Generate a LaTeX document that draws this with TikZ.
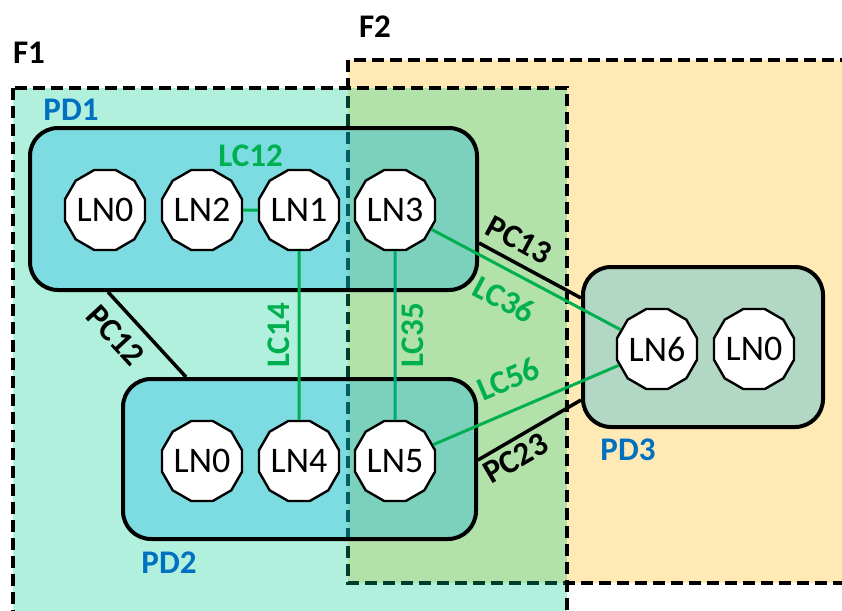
\documentclass[tikz,border=0pt]{standalone}
\usepackage{fontspec}
\setmainfont{Carlito}
\usetikzlibrary{shapes.geometric}

\definecolor{fyellow}{RGB}{255,234,181}
\definecolor{faqua}{RGB}{0,205,145}
\definecolor{pdblue}{RGB}{0,173,232}
\definecolor{lgreen}{RGB}{0,176,80}
\definecolor{lteal}{RGB}{0,168,125}
\definecolor{lblue}{RGB}{0,112,192}

\tikzset{
  fregion/.style={draw=black, line width=4pt, dash pattern=on 12pt off 6pt},
  pdbox/.style={draw=black, line width=4pt, rounded corners=28pt,
    fill=pdblue, fill opacity=0.3, draw opacity=1, inner sep=0pt},
  lnode/.style={regular polygon, regular polygon sides=12, draw=black,
    line width=2.4pt, fill=white, minimum size=77pt, inner sep=0pt,
    font=\fontsize{36}{36}\selectfont},
  lbl/.style={inner sep=0pt, font=\bfseries\fontsize{33}{33}\selectfont},
  lc/.style={draw=lgreen, line width=3pt},
  pc/.style={draw=black, line width=3.5pt},
}

\begin{document}
\begin{tikzpicture}[x=1pt, y=-1pt]
  \useasboundingbox (0,0) rectangle (842,610);
  \clip (0,0) rectangle (842,610);

  % F2 region (opaque), then F1 region laid over it with a translucent fill
  \path[fill=fyellow] (348,60) rectangle (860,583);
  \path[fregion] (348,60) rectangle (860,583);
  \path[fill=faqua, fill opacity=0.3] (13,88) rectangle (567,630);
  \path[fregion] (13,88) rectangle (567,630);

  \node[lbl] (f1) at (29,53) {F1};
  \node[lbl] (f2) at (375,27) {F2};

  % physical domains
  \node[pdbox, minimum width=447pt, minimum height=162pt] (pd1) at (253.5,209) {};
  \node[pdbox, minimum width=353pt, minimum height=160pt] (pd2) at (299.5,459) {};
  \node[pdbox, minimum width=240pt, minimum height=160pt] (pd3) at (703,347) {};

  \node[lbl, text=lblue] (pd1l) at (71,110) {PD1};
  \node[lbl, text=lblue] (pd2l) at (169,563) {PD2};
  \node[lbl, text=lblue] (pd3l) at (628,450) {PD3};

  % logical nodes
  \node[lnode] (ln0a) at (105,210) {LN0};
  \node[lnode] (ln2)  at (202,210) {LN2};
  \node[lnode] (ln1)  at (299,210) {LN1};
  \node[lnode] (ln3)  at (395,210) {LN3};
  \node[lnode] (ln0b) at (202,461) {LN0};
  \node[lnode] (ln4)  at (299,461) {LN4};
  \node[lnode] (ln5)  at (395,461) {LN5};
  \node[lnode] (ln6)  at (657,349) {LN6};
  \node[lnode] (ln0c) at (754,349) {LN0};

  % physical connections between domains
  \draw[pc] (pd1.south -| 108,0) -- (pd2.north -| 186,0)
    node[lbl, pos=0.32, sloped, below=11pt] {PC12};
  \draw[pc] (pd1.east |- 0,243) -- (pd3.west |- 0,298)
    node[lbl, pos=0.29, sloped, above=9pt] {PC13};
  \draw[pc] (pd2.east |- 0,460) -- (pd3.west |- 0,400)
    node[lbl, pos=0.28, sloped, below=5pt] {PC23};

  % logical connections between nodes
  \draw[lc] (ln2) -- (ln1)
    node[lbl, text=lgreen, midway, above=42pt] {LC12};
  \draw[lc] (ln1) -- (ln4)
    node[lbl, text=lgreen, midway, xshift=-20pt, rotate=90] {LC14};
  \draw[lc, draw=lteal] (ln3) -- (ln5)
    node[lbl, text=lgreen, midway, xshift=18pt, rotate=90] {LC35};
  \draw[lc] (ln3) -- (ln6)
    node[lbl, text=lgreen, pos=0.455, sloped, below=15pt] {LC36};
  \draw[lc] (ln5) -- (ln6)
    node[lbl, text=lgreen, pos=0.47, sloped, above=18pt] {LC56};
\end{tikzpicture}
\end{document}
